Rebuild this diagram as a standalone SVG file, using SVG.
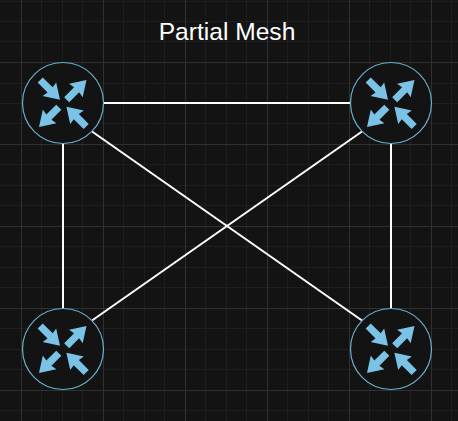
<svg xmlns="http://www.w3.org/2000/svg" width="458" height="421" viewBox="0 0 458 421">
<style>
.minor{stroke:#1e1e1e;stroke-width:1;fill:none;shape-rendering:crispEdges}
.major{stroke:#303030;stroke-width:1;fill:none;shape-rendering:crispEdges}
.link{stroke:#ffffff;stroke-width:2;fill:none}
.disc{fill:#131313;stroke:#6bb0cf;stroke-width:1.2}
.arrow{fill:#7ac3e6}
.title{font-family:"Liberation Sans",Arial,sans-serif;font-size:24.6px;fill:#ffffff;text-anchor:middle}
</style>
<defs>
<path id="arr" d="M0,-3.6 L14,-3.6 L13,-9.6 L28,0 L13,9.6 L14,3.6 L0,3.6Z"/>
<g id="icon" class="arrow">
<use href="#arr" transform="translate(-22.8,-23) rotate(45)"/>
<use href="#arr" transform="translate(3.7,-3.3) rotate(-45)"/>
<use href="#arr" transform="translate(-4.2,4.2) rotate(135)"/>
<use href="#arr" transform="translate(23.2,23.5) rotate(225)"/>
</g>
</defs>
<rect width="458" height="421" fill="#131313"/>
<g id="grid">
<path class="minor" d="M41.5,0V421M62.5,0V421M82.5,0V421M123.5,0V421M144.5,0V421M164.5,0V421M205.5,0V421M226.5,0V421M246.5,0V421M287.5,0V421M308.5,0V421M328.5,0V421M369.5,0V421M390.5,0V421M410.5,0V421M451.5,0V421M0,1.5H458M0,21.5H458M0,41.5H458M0,83.5H458M0,103.5H458M0,123.5H458M0,164.5H458M0,185.5H458M0,205.5H458M0,246.5H458M0,267.5H458M0,287.5H458M0,328.5H458M0,349.5H458M0,369.5H458M0,410.5H458"/>
<path class="major" d="M21.5,0V421M103.5,0V421M185.5,0V421M267.5,0V421M349.5,0V421M431.5,0V421M0,62.5H458M0,144.5H458M0,226.5H458M0,308.5H458M0,390.5H458"/>
</g>
<g id="connectors">
<path class="link" d="M103,103H351"/>
<path class="link" d="M63,143V309"/>
<path class="link" d="M391,143V309"/>
<path class="link" d="M92,131.5L362,320.5"/>
<path class="link" d="M362,131.5L92,320.5"/>
</g>
<g id="node-top-left" transform="translate(63,103)"><circle class="disc" r="40.5"/><use href="#icon"/></g>
<g id="node-top-right" transform="translate(391,103)"><circle class="disc" r="40.5"/><use href="#icon"/></g>
<g id="node-bottom-left" transform="translate(63,349)"><circle class="disc" r="40.5"/><use href="#icon"/></g>
<g id="node-bottom-right" transform="translate(391,349)"><circle class="disc" r="40.5"/><use href="#icon"/></g>
<text class="title" x="227" y="39.5">Partial Mesh</text>
</svg>
